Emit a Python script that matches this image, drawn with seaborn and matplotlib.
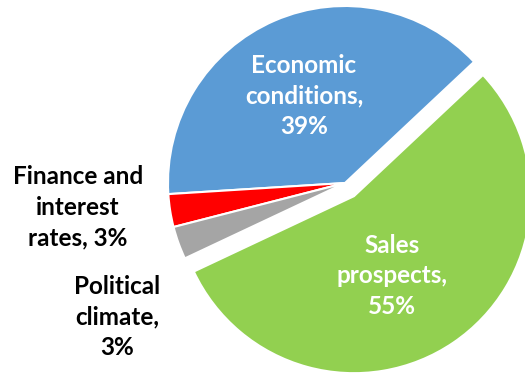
import matplotlib
matplotlib.use("Agg")
import matplotlib.pyplot as plt
import seaborn as sns

# Shares of respondents by main concern (percent)
categories = ["Economic\nconditions", "Finance and\ninterest\nrates", "Political\nclimate", "Sales\nprospects"]
values = [39, 3, 3, 55]
colors = ["#5B9BD5", "#FF0000", "#A5A5A5", "#92D050"]
explode = [0, 0, 0, 0.09]
label_sep = ["\n", " ", "\n", "\n"]
label_pos = [(-0.232, 0.492), (-1.508, -0.136), (-1.288, -0.757), (0.266, -0.525)]
label_color = ["white", "black", "black", "white"]

sns.set_theme(style="white")
plt.rcParams["font.family"] = ["Lato", "DejaVu Sans"]

fig = plt.figure(figsize=(5.25, 3.75), dpi=100)
ax = fig.add_axes([0, 0, 1, 1])

ax.pie(values, colors=colors, explode=explode, startangle=43.2,
       counterclock=True, radius=1.0,
       wedgeprops=dict(edgecolor="white", linewidth=1.5))

for name, sep, v, (x, y), c in zip(categories, label_sep, values, label_pos, label_color):
    ax.text(x, y, f"{name},{sep}{v}%", ha="center", va="center",
            color=c, fontsize=17.5, fontweight="bold", linespacing=1.4)

ax.set_aspect("auto")
ax.set_xlim(-345 / 177, 180 / 177)
ax.set_ylim(-192 / 177, 183 / 177)
ax.axis("off")

fig.savefig("out.png", dpi=100)
